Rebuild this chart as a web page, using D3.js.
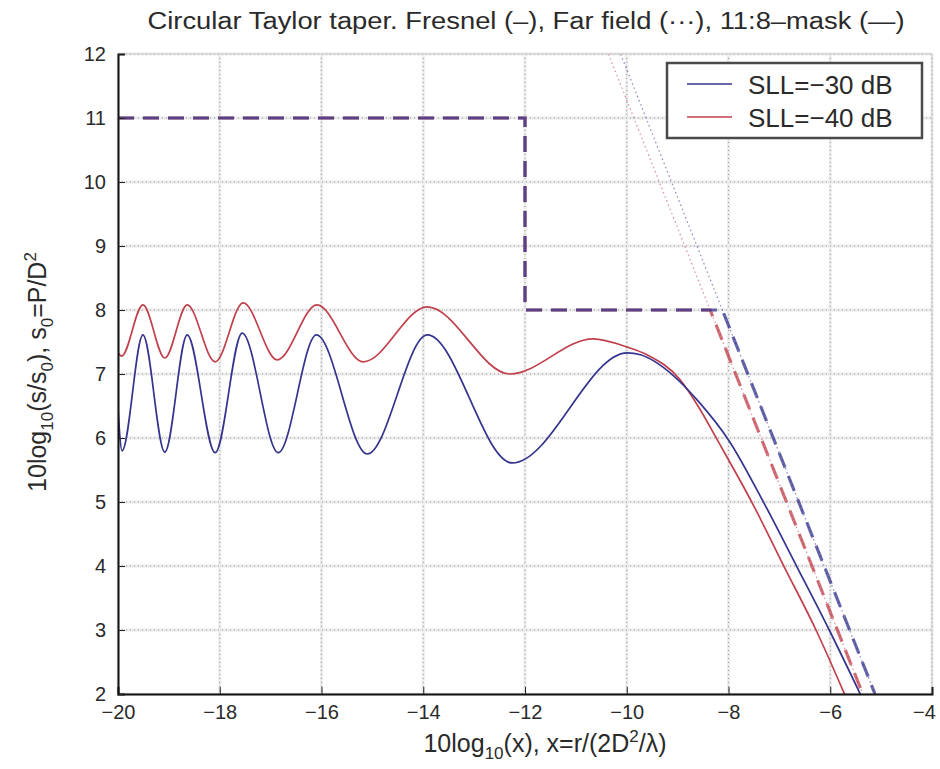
<!DOCTYPE html>
<html><head><meta charset="utf-8">
<script src="https://cdn.jsdelivr.net/npm/d3@7"></script>
<style>
body{margin:0;background:#fff;}
text{font-family:"Liberation Sans",Arial,sans-serif;fill:#2a2a2a;}
</style></head>
<body><svg id="chart" width="940" height="769"></svg>
<script>
// ---- data ----
const xTicks = [-20,-18,-16,-14,-12,-10,-8,-6,-4];
const yTicks = [2,3,4,5,6,7,8,9,10,11,12];
const seriesNames = ["SLL=\u221230 dB","SLL=\u221240 dB"];
const seriesColors = ["#34348e","#c0404c"];
// Fresnel curve, SLL=-30 dB (x, y)
const fresnelX30 = [-20,-19.92,-19.51,-19.08,-18.64,-18.09,-17.56,-16.85,-16.1,-15.1,-13.92,-12.25,-9.99,-9.73,-9.09,-8.6,-8.0,-7.3,-6.65,-6.02,-5.41];
const fresnelY30 = [6.45,5.8,7.61,5.78,7.61,5.77,7.64,5.77,7.61,5.75,7.61,5.61,7.33,7.3,6.98,6.58,5.97,4.98,3.98,3.0,2.0];
// Fresnel curve, SLL=-40 dB
const fresnelX40 = [-20,-19.93,-19.51,-19.08,-18.64,-18.09,-17.54,-16.87,-16.09,-15.18,-13.92,-12.3,-10.66,-9.99,-9.6,-8.95,-8.6,-8.22,-7.53,-6.9,-6.28,-5.72];
const fresnelY40 = [7.33,7.28,8.08,7.25,8.08,7.19,8.11,7.22,8.08,7.19,8.05,7.0,7.55,7.42,7.3,6.91,6.5,5.97,4.98,3.98,3.0,2.0];
// Far field lines (endpoints)
const farX30 = [-10.12,-5.12], farY30 = [12,2];
const farX40 = [-10.36,-5.36], farY40 = [12,2];
// 11:8 mask
const maskX30 = [-20,-12,-12,-8.12,-5.12], maskY30 = [11,11,8,8,2];
const maskX40 = [-20,-12,-12,-8.36,-5.36], maskY40 = [11,11,8,8,2];

const zip = (xs,ys)=>xs.map((x,i)=>({x, y:ys[i]}));

// ---- layout ----
const svg = d3.select("#chart");
const L=118, R=932, T=54, B=694;
const x = d3.scaleLinear().domain([-20,-4]).range([L,R]);
const y = d3.scaleLinear().domain([2,12]).range([B,T]);

svg.append("defs").append("clipPath").attr("id","clip")
  .append("rect").attr("x",L).attr("y",T).attr("width",R-L).attr("height",B-T);

// grid
const grid = svg.append("g");
xTicks.forEach(t=>{
  grid.append("line").attr("x1",x(t)).attr("x2",x(t)).attr("y1",T).attr("y2",B)
    .attr("stroke","#ececec").attr("stroke-width",3);
  grid.append("line").attr("x1",x(t)).attr("x2",x(t)).attr("y1",T).attr("y2",B)
    .attr("stroke","#9a9a9a").attr("stroke-width",1).attr("stroke-dasharray","1,3");
});
yTicks.forEach(t=>{
  grid.append("line").attr("x1",L).attr("x2",R).attr("y1",y(t)).attr("y2",y(t))
    .attr("stroke","#ececec").attr("stroke-width",3);
  grid.append("line").attr("x1",L).attr("x2",R).attr("y1",y(t)).attr("y2",y(t))
    .attr("stroke","#9a9a9a").attr("stroke-width",1).attr("stroke-dasharray","1,3");
});

const plot = svg.append("g").attr("clip-path","url(#clip)");
const lineLin = d3.line().x(d=>x(d.x)).y(d=>y(d.y));
const lineSm = d3.line().x(d=>x(d.x)).y(d=>y(d.y)).curve(d3.curveMonotoneX);

// far field (dotted)
[[farX30,farY30,0],[farX40,farY40,1]].forEach(([xs,ys,i])=>{
  plot.append("path").datum(zip(xs,ys)).attr("d",lineLin).attr("fill","none")
    .attr("stroke",seriesColors[i]).attr("stroke-opacity",0.55).attr("stroke-width",1.3)
    .attr("stroke-dasharray","1.5,3");
});
// mask (dashed)
[[maskX40,maskY40,1],[maskX30,maskY30,0]].forEach(([xs,ys,i])=>{
  plot.append("path").datum(zip(xs,ys)).attr("d",lineLin).attr("fill","none")
    .attr("stroke",seriesColors[i]).attr("stroke-opacity",0.75).attr("stroke-width",3.2)
    .attr("stroke-dasharray","16,9");
});
// Fresnel curves
[[fresnelX40,fresnelY40,1],[fresnelX30,fresnelY30,0]].forEach(([xs,ys,i])=>{
  plot.append("path").datum(zip(xs,ys)).attr("d",lineSm).attr("fill","none")
    .attr("stroke",seriesColors[i]).attr("stroke-width",1.7);
});

// axes frame
svg.append("line").attr("x1",L).attr("x2",R).attr("y1",T).attr("y2",T).attr("stroke","#cfcfcf");
svg.append("line").attr("x1",R).attr("x2",R).attr("y1",T).attr("y2",B).attr("stroke","#cfcfcf");

const xAxis = svg.append("g").attr("transform",`translate(0,${B})`)
  .call(d3.axisBottom(x).tickValues(xTicks).tickSize(-7).tickPadding(14).tickFormat(d3.format("d")));
const yAxis = svg.append("g").attr("transform",`translate(${L},0)`)
  .call(d3.axisLeft(y).tickValues(yTicks).tickSize(-7).tickPadding(12).tickFormat(d3.format("d")));
[xAxis,yAxis].forEach(a=>{
  a.select(".domain").attr("stroke","#111").attr("stroke-width",2);
  a.selectAll(".tick line").attr("stroke","#222");
  a.selectAll(".tick text").attr("font-size",20).attr("fill","#2a2a2a")
    .style("font-family","'Liberation Sans',Arial,sans-serif");
});
xAxis.selectAll(".tick text").attr("dy","0.55em");
xAxis.selectAll(".tick").filter(d=>d===-4).select("text").attr("dx",-8);

// title
svg.append("text").attr("x",526).attr("y",29).attr("text-anchor","middle")
  .attr("font-size",23).attr("textLength",757).attr("lengthAdjust","spacingAndGlyphs")
  .text("Circular Taylor taper. Fresnel (\u2013), Far field (\u00b7\u00b7\u00b7), 11:8\u2013mask (\u2014)");

// x label
const xl = svg.append("text").attr("x",545).attr("y",752).attr("text-anchor","middle").attr("font-size",25);
xl.append("tspan").text("10log");
xl.append("tspan").attr("font-size",17).attr("dy",7).text("10");
xl.append("tspan").attr("dy",-7).text("(x), x=r/(2D");
xl.append("tspan").attr("font-size",17).attr("dy",-10).text("2");
xl.append("tspan").attr("dy",10).text("/\u03bb)");

// y label
const yl = svg.append("text").attr("transform","translate(46,372) rotate(-90)")
  .attr("text-anchor","middle").attr("font-size",25);
yl.append("tspan").text("10log");
yl.append("tspan").attr("font-size",17).attr("dy",7).text("10");
yl.append("tspan").attr("dy",-7).text("(s/s");
yl.append("tspan").attr("font-size",17).attr("dy",7).text("0");
yl.append("tspan").attr("dy",-7).text("), s");
yl.append("tspan").attr("font-size",17).attr("dy",7).text("0");
yl.append("tspan").attr("dy",-7).text("=P/D");
yl.append("tspan").attr("font-size",17).attr("dy",-10).text("2");

// legend
const lg = svg.append("g");
lg.append("rect").attr("x",667).attr("y",63).attr("width",255).attr("height",75)
  .attr("fill","#fff").attr("stroke","#4a4a4a").attr("stroke-width",2.5);
seriesNames.forEach((n,i)=>{
  const ly = 84 + i*33;
  lg.append("line").attr("x1",687).attr("x2",732).attr("y1",ly).attr("y2",ly)
    .attr("stroke",seriesColors[i]).attr("stroke-width",1.7);
  lg.append("text").attr("x",748).attr("y",ly+10).attr("font-size",26).text(n);
});
</script>
</body></html>
